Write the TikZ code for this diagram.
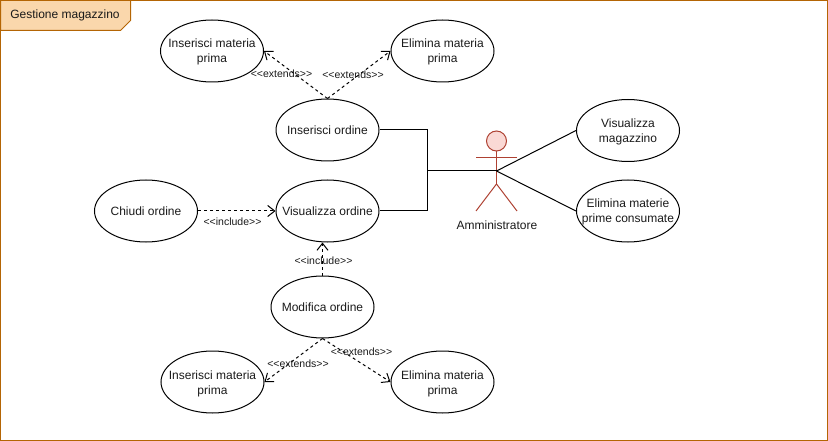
\documentclass[tikz,border=0pt]{standalone}
\usepackage{fontspec}
\setmainfont{Liberation Sans}
\usetikzlibrary{arrows.meta,shapes.geometric}
\definecolor{framefill}{HTML}{FAD7AC}
\definecolor{framedraw}{HTML}{B46504}
\definecolor{actorfill}{HTML}{FAD9D5}
\definecolor{actordraw}{HTML}{AE4132}
\definecolor{inktext}{HTML}{1A1A1A}
\newcommand{\nowide}[1]{\makebox[0pt]{#1}}
\newcommand{\lowwide}[1]{\smash{\raisebox{-4.5pt}{\makebox[0pt]{#1}}}}
\newcommand{\stereotype}[1]{<\kern0pt<#1>\kern0pt>}
\tikzset{
  usecase/.style={draw, ellipse, minimum width=103pt, minimum height=62pt, inner sep=0pt, align=center, text=inktext, font=\fontsize{12}{15}\selectfont},
  depend/.style={draw, dashed, dash pattern=on 3pt off 3pt, -{Straight Barb[length=7pt,width=11pt]}},
  stereo/.style={draw=none, text=inktext, inner sep=0pt, font=\fontsize{10.5}{12}\selectfont},
  assoc/.style={draw, line width=1pt},
  limb/.style={draw=actordraw, line width=1pt}
}
\begin{document}
\begin{tikzpicture}[x=1pt, y=-1pt, line width=1pt]
\useasboundingbox (0,0) rectangle (828,441);
\draw [draw=framedraw] (0.5,0.5) rectangle (827.5,440.5);
\draw [draw=framedraw, fill=framefill] (0.5,0.5) -- (130.5,0.5) -- (130.5,20.5) -- (120.5,30.5) -- (0.5,30.5) -- cycle;
\path (65,15) node[draw=none, text=inktext, font=\fontsize{12}{14}\selectfont] (title) {Gestione magazzino};
% use cases
\path (212,51) node[usecase] (addtop) {\lowwide{Inserisci materia}\\\lowwide{prima}};
\path (442.5,51) node[usecase] (deltop) {\lowwide{Elimina materia}\\\lowwide{prima}};
\path (327.5,130) node[usecase] (addorder) {\nowide{Inserisci ordine}};
\path (327.5,211) node[usecase] (showorder) {\nowide{Visualizza ordine}};
\path (146,211) node[usecase] (closeorder) {\nowide{Chiudi ordine}};
\path (322.5,307) node[usecase] (editorder) {\nowide{Modifica ordine}};
\path (212.5,382) node[usecase] (addbot) {\lowwide{Inserisci materia}\\\lowwide{prima}};
\path (442.5,382) node[usecase] (delbot) {\lowwide{Elimina materia}\\\lowwide{prima}};
\path (628,130.5) node[usecase] (showstore) {\lowwide{Visualizza}\\\lowwide{magazzino}};
\path (628,211) node[usecase] (delused) {\lowwide{Elimina materie}\\\lowwide{prime consumate}};
% actor
\draw [limb, fill=actorfill] (496.5,141) circle (10pt);
\draw [limb] (496.5,151) -- (496.5,184);
\draw [limb] (476,157.5) -- (517,157.5);
\draw [limb] (476,211) -- (496.5,184) -- (517,211);
\coordinate (admin) at (496.5,171);
\coordinate (joint) at (427,171);
\path (497,225) node[draw=none, text=inktext, font=\fontsize{12}{14}\selectfont] (adminlabel) {Amministratore};
% associations
\draw [assoc] (addorder.east) -| (joint);
\draw [assoc] (showorder.east) -| (joint);
\draw [assoc] (joint) -- (admin);
\draw [assoc] (admin) -- (showstore.west);
\draw [assoc] (admin) -- (delused.west);
% dependencies
\draw [depend] (addorder.north) -- (addtop.east);
\draw [depend] (addorder.north) -- (deltop.west);
\draw [depend] (closeorder.east) -- (showorder.west);
\draw [depend] (editorder.north) -- (editorder.north |- showorder.south);
\draw [depend] (editorder.south) -- (addbot.east);
\draw [depend] (editorder.south) -- (delbot.west);
\path (281.5,74) node[stereo] (ext1) {\stereotype{extends}};
\path (353,75) node[stereo] (ext2) {\stereotype{extends}};
\path (232.5,222) node[stereo] (inc1) {\stereotype{include}};
\path (323.5,261) node[stereo] (inc2) {\stereotype{include}};
\path (298,364) node[stereo] (ext3) {\stereotype{extends}};
\path (361.5,352) node[stereo] (ext4) {\stereotype{extends}};
\end{tikzpicture}
\end{document}
